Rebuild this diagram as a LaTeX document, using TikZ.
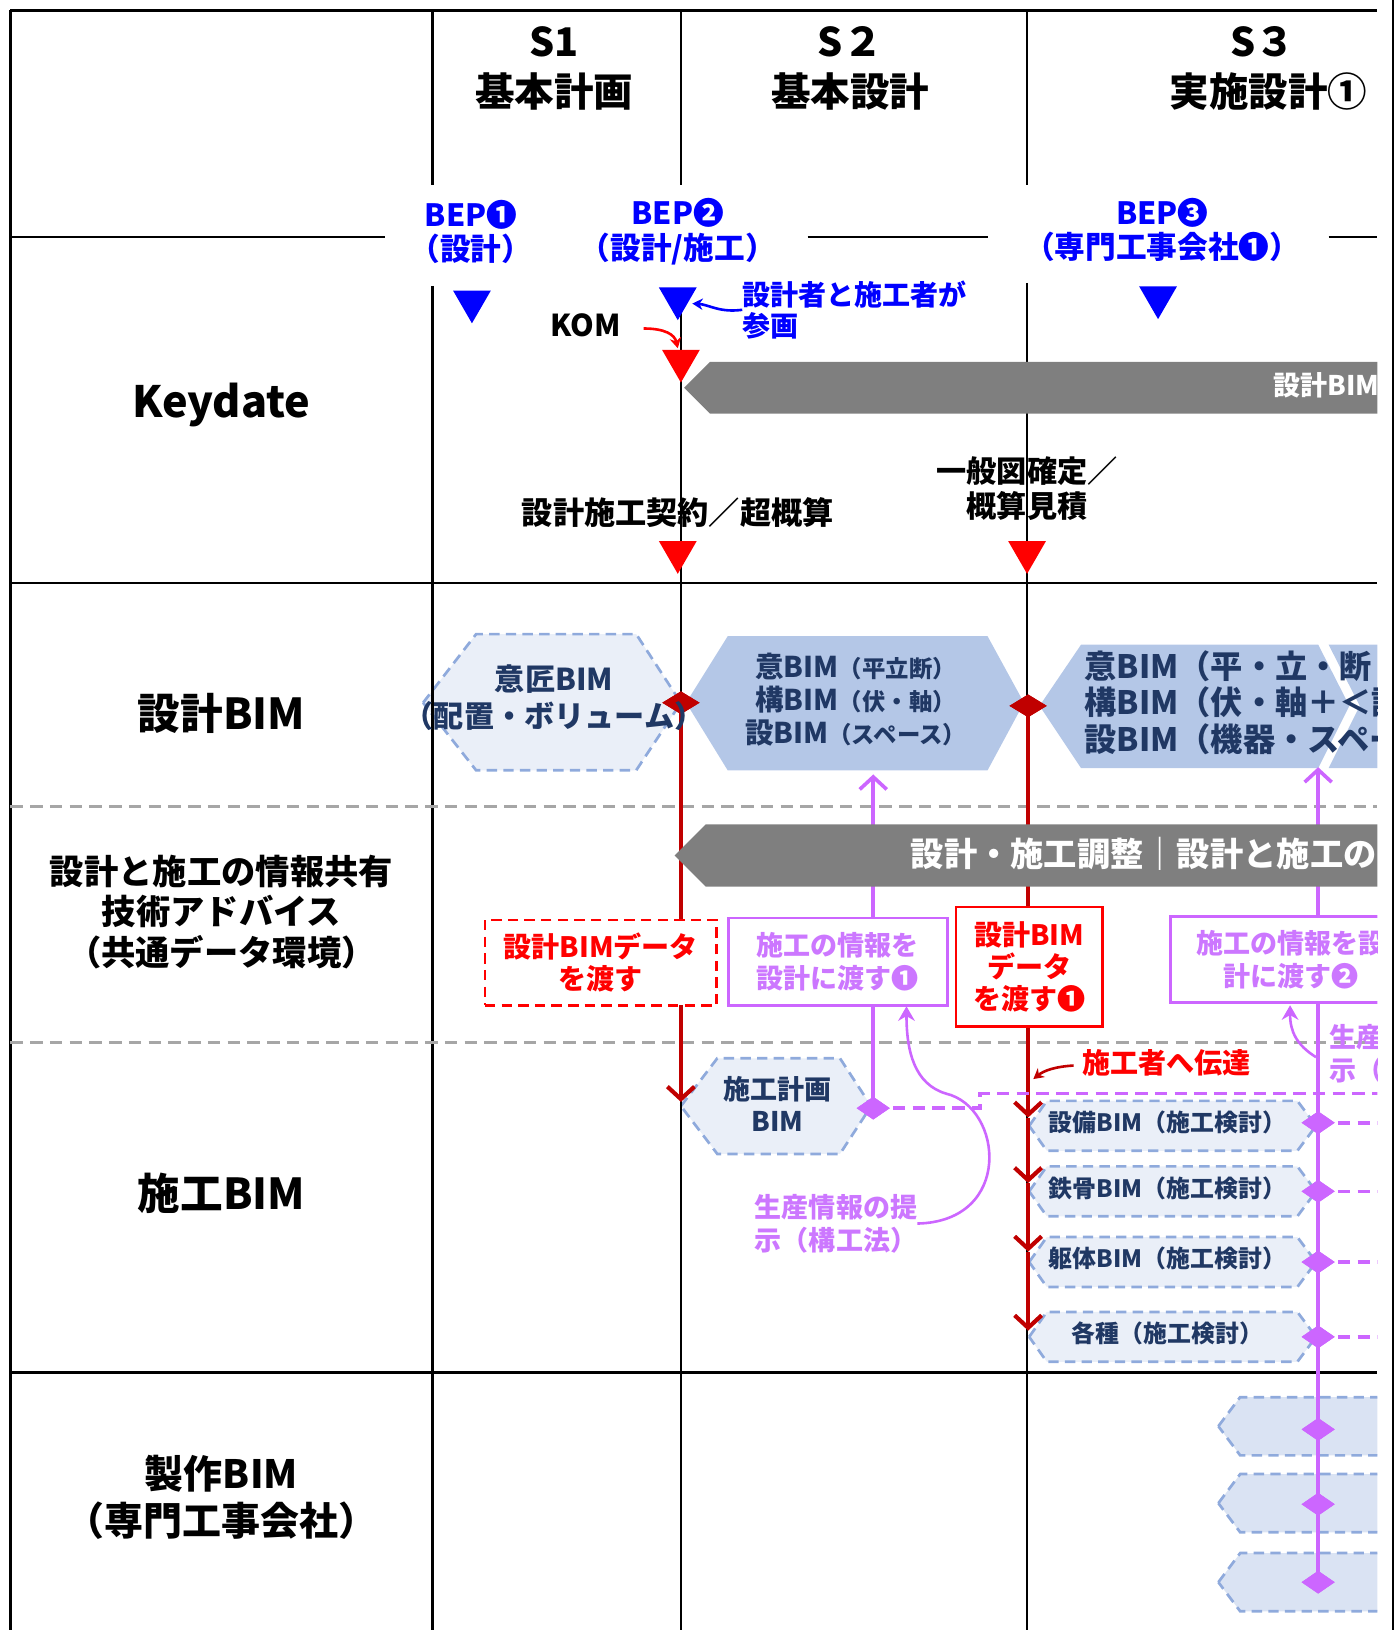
\documentclass[tikz,border=0pt]{standalone}
\usepackage{fontspec}
\setmainfont{Noto Sans CJK JP}
\usetikzlibrary{arrows.meta,shapes.geometric}
\definecolor{bepblue}{HTML}{0000FF}
\definecolor{navy}{HTML}{203864}
\definecolor{hexline}{HTML}{8FAADC}
\definecolor{hexfill}{HTML}{EAEFF8}
\definecolor{hexfillb}{HTML}{DAE3F3}
\definecolor{hexsolid}{HTML}{B4C7E7}
\definecolor{bargray}{HTML}{7F7F7F}
\definecolor{dred}{HTML}{C00000}
\definecolor{bred}{HTML}{FF0000}
\definecolor{vio}{HTML}{CC66FF}
\definecolor{vtext}{HTML}{CC77FF}
\definecolor{dashgray}{HTML}{A6A6A6}
\newcommand\fs[2]{\fontsize{#1}{#2}\selectfont}
\begin{document}
\begin{tikzpicture}[x=1pt,y=-1pt,
  gridline/.style={line width=2.5pt,black},
  rowsep/.style={line width=2.5pt,dashgray,dash pattern=on 12pt off 7pt},
  rowlabel/.style={font=\bfseries\fs{40}{45},align=center,text=black,inner sep=0pt},
  hdr/.style={font=\bfseries\fs{38}{44},text=black,inner sep=0pt},
  bep/.style={font=\bfseries\fs{29.5}{33},text=bepblue,align=center,inner sep=0pt},
  blk/.style={font=\bfseries\fs{29}{34},text=black,align=center,inner sep=0pt},
  btri/.style={regular polygon,regular polygon sides=3,shape border rotate=180,minimum size=42pt,inner sep=0pt,fill=bepblue},
  rtri/.style={regular polygon,regular polygon sides=3,shape border rotate=180,minimum size=42pt,inner sep=0pt,fill=bred},
  dhex/.style={draw=hexline,fill=hexfill,line width=2.6pt,dash pattern=on 10pt off 6pt},
  dhexb/.style={draw=hexline,fill=hexfillb,line width=2.6pt,dash pattern=on 10pt off 6pt},
  hextxt/.style={font=\bfseries\fs{28}{34},text=navy,align=center,inner sep=0pt},
  bartxt/.style={font=\bfseries\fs{32}{36},text=white,inner sep=0pt},
  redline/.style={line width=4pt,dred},
  violine/.style={line width=3.5pt,vio},
  viodash/.style={line width=3.5pt,vio,dash pattern=on 12pt off 7pt},
  vhead/.style={-{Straight Barb[length=12pt,width=26pt]}},
  rdiam/.style={diamond,fill=dred,minimum width=36pt,minimum height=22pt,inner sep=0pt},
  vdiam/.style={diamond,fill=vio,minimum width=32pt,minimum height=22pt,inner sep=0pt},
  redbox/.style={draw=bred,fill=white,line width=2.6pt,text=bred,font=\bfseries\fs{27}{31},align=center,inner sep=0pt},
  viobox/.style={draw=vio,fill=white,line width=2.6pt,text=vtext,font=\bfseries\fs{26}{32},align=center,inner sep=0pt},
  viotxt/.style={text=vtext,font=\bfseries\fs{26}{32},align=left,inner sep=0pt},
  redtxt/.style={text=bred,font=\bfseries\fs{27}{32},inner sep=0pt},
  sitxt/.style={font=\bfseries\fs{23}{28},text=navy,inner sep=0pt}
]
\useasboundingbox (0,0) rectangle (1344,1568);

\begin{scope}
\clip (0,0) rectangle (1325,1568);
% ---------- hexagons (below grid)
\draw[dhex] (407,676) -- (458,610) -- (612,610) -- (655,676) -- (612,741) -- (458,741) -- cycle;
\fill[hexsolid] (660,676) -- (700,612) -- (950,612) -- (985,676) -- (950,741) -- (700,741) -- cycle;
\fill[hexsolid] (1000,679) -- (1040,620) -- (1268,620) -- (1298,679) -- (1268,739) -- (1040,739) -- cycle;
\fill[hexsolid] (1278,620) -- (1345,620) -- (1345,739) -- (1278,739) -- (1308,679) -- cycle;
\draw[dhex] (655,1064) -- (690,1018) -- (808,1018) -- (838,1064) -- (808,1110) -- (690,1110) -- cycle;
\foreach \yc in {1083,1146,1214,1286} {
  \draw[dhex] (990,\yc) -- (1007,\yc-24) -- (1248,\yc-24) -- (1266,\yc) -- (1248,\yc+24) -- (1007,\yc+24) -- cycle;
}
\foreach \yc in {1372,1446,1522} {
  \draw[dhexb] (1172,\yc) -- (1193,\yc-28) -- (1350,\yc-28) -- (1350,\yc+28) -- (1193,\yc+28) -- cycle;
}

% ---------- grid
\draw[gridline] (10,10) -- (1325,10);
\draw[gridline] (10,10) -- (10,1568);
\draw[gridline] (416,10) -- (416,178) (416,275) -- (416,1568);
\draw[gridline] (655,10) -- (655,178) (655,278) -- (655,1568);
\draw[gridline] (988,10) -- (988,178) (988,272) -- (988,1568);
\draw[gridline] (10,228) -- (370,228) (777,228) -- (950,228) (1278,228) -- (1325,228);
\draw[gridline] (10,561) -- (1325,561);
\draw[gridline] (10,1320) -- (1325,1320);
\draw[rowsep] (10,776) -- (1325,776) (10,1003) -- (1325,1003);

% ---------- diamonds
\node[rdiam] (dr1) at (655,676) {};
\node[rdiam] (dr2) at (989,679) {};
\node[vdiam] (dp0) at (840,1066) {};
\node[vdiam] (dp1) at (1268,1080) {};
\node[vdiam] (dp2) at (1268,1146) {};
\node[vdiam] (dp3) at (1268,1214) {};
\node[vdiam] (dp4) at (1268,1286) {};
\node[vdiam] (dp5) at (1268,1375) {};
\node[vdiam] (dp6) at (1268,1447) {};
\node[vdiam] (dp7) at (1268,1522) {};
\coordinate (a0) at (655,1060);
\coordinate (a1) at (989,1075);
\coordinate (a2) at (989,1138);
\coordinate (a3) at (989,1204);
\coordinate (a4) at (989,1280);
\coordinate (p0) at (840,745);
\coordinate (p1) at (1268,738);

% ---------- connectors
\draw[redline,vhead] (dr1.center) -- (a0);
\draw[redline,vhead] (dr2.center) -- (a1);
\draw[redline,vhead] (a1) -- (a2);
\draw[redline,vhead] (a2) -- (a3);
\draw[redline,vhead] (a3) -- (a4);
\draw[violine,vhead] (dp0.center) -- (p0);
\draw[violine,vhead] (dp7.center) -- (p1);
\draw[viodash] (dp0.center) -- (943,1066) -- (943,1052) -- (1330,1052);
\draw[viodash] (dp1.center) -- (1330,1080);
\draw[viodash] (dp2.center) -- (1330,1146);
\draw[viodash] (dp3.center) -- (1330,1214);
\draw[viodash] (dp4.center) -- (1330,1286);
\node[vdiam] at (dp0) {};
\foreach \d in {dp1,dp2,dp3,dp4,dp5,dp6,dp7} {\node[vdiam] at (\d) {};}
\node[rdiam] at (dr1) {};
\node[rdiam] at (dr2) {};

% ---------- gray bars
\fill[bargray] (658,373) -- (683,348) -- (1345,348) -- (1345,398) -- (683,398) -- cycle;
\node[bartxt,anchor=west,font=\bfseries\fs{26}{30}] (bar1t) at (1225,371) {設計BIM};
\fill[bargray] (649,823) -- (679,793) -- (1345,793) -- (1345,853) -- (679,853) -- cycle;
\node[bartxt,anchor=west] (bar2t) at (876,821) {設計・施工調整｜設計と施工の};

% ---------- boxes
\node[redbox,dash pattern=on 10pt off 6pt,minimum width=223pt,minimum height=82pt] (bx1) at (578,926) {設計BIMデータ\\を渡す};
\node[viobox,minimum width=211pt,minimum height=84pt] (bx2) at (806,925) {施工の情報を\\設計に渡す❶};
\node[redbox,minimum width=141pt,minimum height=115pt] (bx3) at (990,930) {設計BIM\\データ\\を渡す❶};
\node[viobox,minimum width=232pt,minimum height=83pt] (bx4) at (1242,923) {施工の情報を設\\計に渡す❷};

% ---------- triangles
\node[btri] (tb1) at (454,290) {};
\node[btri] (tb2) at (652,287) {};
\node[btri] (tb3) at (1114,286) {};
\node[rtri] (tk) at (655,347) {};
\node[rtri] (tc) at (652,531) {};
\node[rtri] (tg) at (988,531) {};

% ---------- header and row labels
\node[hdr] (s1) at (533,40) {S1};
\node[hdr] (s1n) at (533,88) {基本計画};
\node[hdr] (s2) at (818,40) {S２};
\node[hdr] (s2n) at (818,88) {基本設計};
\node[hdr] (s3) at (1215,40) {S３};
\node[hdr] (s3n) at (1220,88) {実施設計①};
\node[rowlabel,font=\bfseries\fs{41.5}{45}] (rkey) at (213,390) {Keydate};
\node[rowlabel,font=\bfseries\fs{41}{45}] (rdes) at (213,686) {設計BIM};
\node[rowlabel,font=\bfseries\fs{33}{39}] (rshare) at (213,877) {設計と施工の情報共有\\技術アドバイス\\（共通データ環境）};
\node[rowlabel,font=\bfseries\fs{41}{45}] (rcon) at (213,1148) {施工BIM};
\node[rowlabel,font=\bfseries\fs{37.5}{45}] (rfab) at (213,1440) {製作BIM\\（専門工事会社）};

% ---------- keydate texts
\node[bep] (bep1) at (453,223) {BEP❶\\（設計）};
\node[bep] (bep2) at (652,223) {BEP❷\\（設計/施工）};
\node[bep] (bep3) at (1118,221) {BEP❸\\（専門工事会社❶）};
\node[bep,anchor=west,align=left,font=\bfseries\fs{27}{30}] (sanka) at (714,298) {設計者と施工者が\\参画};
\node[blk] (kom) at (563,313) {KOM};
\node[blk,font=\bfseries\fs{30}{34}] (contract) at (652,493) {設計施工契約／超概算};
\node[blk] (ippan) at (988,470) {一般図確定／\\概算見積};
\draw[bepblue,line width=2.5pt,-{Stealth[length=10pt,width=11pt]}] (sanka.west) .. controls (692,301) and (682,293) .. (666,292);
\draw[bred,line width=2.5pt,-{Stealth[length=10pt,width=11pt]}] (kom.east) ++(22,3) .. controls (640,316) and (649,322) .. (652,335);

% ---------- hex texts
\node[hextxt,font=\bfseries\fs{29}{35}] (isho) at (533,671) {意匠BIM\\（配置・ボリューム）};
\node[hextxt,font=\bfseries\fs{27.5}{32}] (kihon) at (823,673) {意BIM{\fs{22.5}{32}（平立断）}\\構BIM{\fs{22.5}{32}（伏・軸）}\\設BIM{\fs{22.5}{32}（スペース）}};
\node[hextxt,anchor=west,align=left,font=\bfseries\fs{31}{35.5}] (jissi) at (1043,676) {意BIM（平・立・断・\\構BIM（伏・軸＋＜設\\設BIM（機器・スペー};
\node[hextxt,font=\bfseries\fs{26}{31}] (skbim) at (748,1062) {施工計画\\BIM};
\node[sitxt] (h1) at (1123,1080) {設備BIM（施工検討）};
\node[sitxt] (h2) at (1123,1143) {鉄骨BIM（施工検討）};
\node[sitxt] (h3) at (1123,1211) {躯体BIM（施工検討）};
\node[sitxt] (h4) at (1123,1283) {各種（施工検討）};

% ---------- other labels
\node[redtxt] (dentatsu) at (1122,1022) {施工者へ伝達};
\draw[dred,line width=2.5pt,-{Stealth[length=10pt,width=11pt]}] (dentatsu.west) ++(-8,3) .. controls (1015,1026) and (1004,1030) .. (994,1038);
\node[viotxt,anchor=west] (seisan) at (726,1177) {生産情報の提\\示（構工法）};
\node[viotxt,anchor=west] (seisan2) at (1279,1014) {生産\\示（};
\draw[vio,line width=2.5pt,-{Stealth[length=14pt,width=16pt]}] (seisan.east) .. controls (975,1175) and (965,1065) .. (910,1052) .. controls (880,1043) and (872,1012) .. (872,968);
\draw[vio,line width=2.5pt,-{Stealth[length=14pt,width=16pt]}] (1266,1017) .. controls (1247,1005) and (1241,992) .. (1241,967);
\end{scope}
\draw[line width=2pt] (1340,0) -- (1340,1568);
\end{tikzpicture}
\end{document}
